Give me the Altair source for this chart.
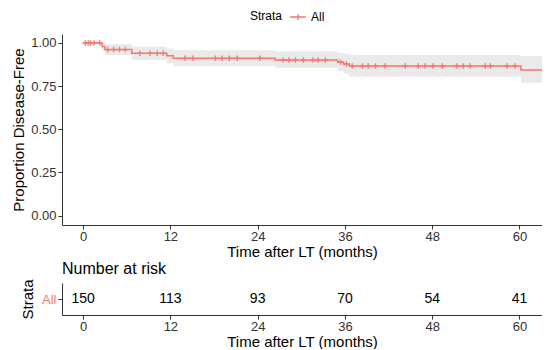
import altair as alt
import pandas as pd

# Kaplan-Meier step curve
step_time = [0.0, 2.6, 3.0, 6.7, 11.5, 12.4, 26.4, 35.0, 35.8, 36.6, 60.2, 64.5]
step_surv = [1.000, 0.980, 0.962, 0.940, 0.926, 0.911, 0.901, 0.889, 0.878, 0.867, 0.843, 0.843]
step_low = [1.000, 0.955, 0.930, 0.902, 0.882, 0.866, 0.856, 0.838, 0.822, 0.805, 0.770, 0.770]
step_high = [1.000, 0.999, 0.992, 0.978, 0.968, 0.958, 0.950, 0.944, 0.937, 0.930, 0.925, 0.925]

# censoring times
censor_time = [0.3, 0.7, 1.0, 1.5, 2.3, 3.4, 4.2, 5.0, 5.8, 7.8, 9.2, 10.2, 11.0,
               14.0, 15.1, 18.2, 19.1, 20.1, 21.2, 24.3,
               27.5, 28.3, 29.2, 30.3, 31.6, 32.3, 33.3,
               35.4, 36.2, 37.0,
               38.4, 39.2, 40.2, 41.5, 44.3, 46.1, 47.0, 48.1, 49.4, 51.4, 52.3, 53.2,
               55.3, 56.0, 58.3, 59.4]

# number at risk
risk_time = [0, 12, 24, 36, 48, 60]
risk_n = [150, 113, 93, 70, 54, 41]

RED = "#F8766D"
FONT = "Liberation Sans"

curve = pd.DataFrame({"time": step_time, "surv": step_surv, "low": step_low,
                      "high": step_high, "strata": "All"})


def surv_at(t):
    s = step_surv[0]
    for tt, ss in zip(step_time, step_surv):
        if tt <= t:
            s = ss
    return s


cens = pd.DataFrame({"time": censor_time,
                     "surv": [surv_at(t) for t in censor_time],
                     "strata": "All"})
risk = pd.DataFrame({"time": risk_time, "n": [str(v) for v in risk_n], "strata": "All"})

xdom = [-2.9, 63.1]
xscale = alt.Scale(domain=xdom, nice=False, zero=False)


def xaxis():
    return alt.Axis(values=risk_time, title="Time after LT (months)", grid=False,
                    labelFontSize=13, titleFontSize=15, titleFontWeight="normal",
                    labelColor="#333", titleColor="#000", domainColor="#333",
                    tickColor="#333", tickSize=4, labelPadding=1, titlePadding=1)


yscale = alt.Scale(domain=[-0.055, 1.052], nice=False, zero=False)
yaxis = alt.Axis(values=[0, 0.25, 0.5, 0.75, 1.0], format=".2f",
                 title="Proportion Disease-Free", grid=False,
                 labelFontSize=13, titleFontSize=15, titleFontWeight="normal",
                 labelColor="#333", titleColor="#000", domainColor="#333",
                 tickColor="#333", tickSize=4, labelPadding=2, titlePadding=4)

color = alt.Color("strata:N", scale=alt.Scale(domain=["All"], range=[RED]),
                  legend=alt.Legend(title="Strata", orient="none", legendX=188, legendY=-26,
                                    direction="horizontal", titleOrient="left",
                                    titleFontSize=12, titleFontWeight="normal",
                                    labelFontSize=12, titlePadding=6,
                                    symbolType="M-1,0L1,0M0,-0.35L0,0.35",
                                    symbolSize=250, symbolStrokeWidth=1.5,
                                    labelFont=FONT, titleFont=FONT))

band = alt.Chart(curve).mark_area(interpolate="step-after", color="#D9D9D9",
                                  opacity=0.55, clip=True).encode(
    x=alt.X("time:Q", scale=xscale, axis=xaxis()),
    y=alt.Y("low:Q", scale=yscale, axis=yaxis),
    y2="high:Q")

line = alt.Chart(curve).mark_line(interpolate="step-after", strokeWidth=1.5,
                                  clip=True).encode(
    x=alt.X("time:Q", scale=xscale),
    y=alt.Y("surv:Q", scale=yscale),
    color=color)

marks = alt.Chart(cens).mark_point(shape="M-1,0L1,0M0,-1L0,1", filled=False,
                                   strokeWidth=1.3, size=30, opacity=1, clip=True).encode(
    x=alt.X("time:Q", scale=xscale),
    y=alt.Y("surv:Q", scale=yscale),
    color=alt.Color("strata:N", scale=alt.Scale(domain=["All"], range=[RED]), legend=None))

top = alt.layer(band, line, marks).properties(width=480, height=191)

risk_chart = alt.Chart(risk).mark_text(fontSize=14, font=FONT, color="#000").encode(
    x=alt.X("time:Q", scale=xscale, axis=xaxis()),
    y=alt.Y("strata:N", axis=alt.Axis(title="Strata", labelColor=RED, labelFontSize=13,
                                      titleFontSize=15, titleFontWeight="normal",
                                      titleColor="#000", domainColor="#333",
                                      tickColor="#333", tickSize=4, labelPadding=2,
                                      titlePadding=6)),
    text="n:N").properties(
    width=480, height=32,
    title=alt.TitleParams("Number at risk", anchor="start", frame="group", fontSize=16,
                          fontWeight="normal", font=FONT, offset=2))

chart = alt.vconcat(top, risk_chart, spacing=1).properties(
    padding={"left": 3, "top": 0, "right": 0, "bottom": 0}
).configure(font=FONT).configure_view(strokeWidth=0).configure_axis(
    labelFont=FONT, titleFont=FONT, domainWidth=1)

chart.save("out.html", embed_options={"renderer": "svg", "actions": False})
